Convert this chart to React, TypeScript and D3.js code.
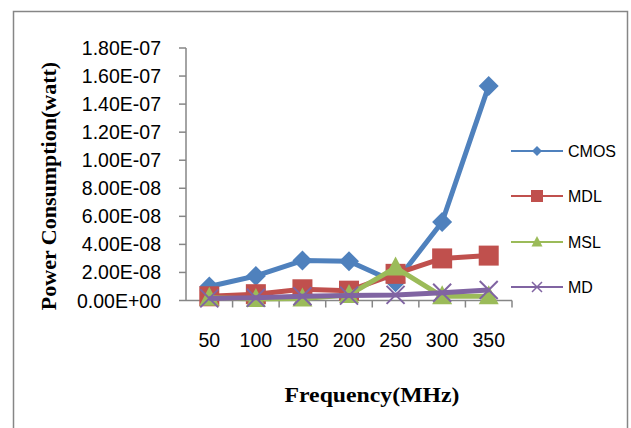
import React, { useEffect, useRef } from "react";
import * as d3 from "d3";

const frequencies = ["50", "100", "150", "200", "250", "300", "350"];
const cmos = [1.0e-8, 1.75e-8, 2.85e-8, 2.8e-8, 1.3e-8, 5.6e-8, 1.53e-7];
const mdl = [3.0e-9, 4.5e-9, 8.0e-9, 7.0e-9, 1.9e-8, 3.0e-8, 3.2e-8];
const msl = [2.0e-9, 1.0e-9, 1.5e-9, 4.0e-9, 2.35e-8, 3.0e-9, 3.0e-9];
const md = [1.5e-9, 2.0e-9, 3.0e-9, 3.5e-9, 4.0e-9, 5.5e-9, 7.5e-9];
const yTickValues = [0, 2e-8, 4e-8, 6e-8, 8e-8, 1e-7, 1.2e-7, 1.4e-7, 1.6e-7, 1.8e-7];
const yTickLabels = ["0.00E+00", "2.00E-08", "4.00E-08", "6.00E-08", "8.00E-08", "1.00E-07", "1.20E-07", "1.40E-07", "1.60E-07", "1.80E-07"];

const series = [
  { name: "CMOS", values: cmos, color: "#4F81BD", marker: "diamond" },
  { name: "MDL", values: mdl, color: "#C0504D", marker: "square" },
  { name: "MSL", values: msl, color: "#9BBB59", marker: "triangle" },
  { name: "MD", values: md, color: "#8064A2", marker: "x" },
];

const App = () => {
  const svgRef = useRef<SVGSVGElement>(null);

  useEffect(() => {
    const width = 631;
    const height = 428;
    const svg = d3.select(svgRef.current).attr("width", width).attr("height", height);
    svg.selectAll("*").remove();

    const axisColor = "#868686";
    const tickFont = "'Liberation Sans', Arial, sans-serif";
    const titleFont = "'Liberation Serif', 'Times New Roman', serif";

    // outer frame
    svg.append("rect")
      .attr("x", 13.5).attr("y", 11.5)
      .attr("width", 614).attr("height", 430)
      .attr("fill", "white").attr("stroke", axisColor).attr("stroke-width", 1.5);

    const x = d3.scaleBand().domain(frequencies).range([186, 512]);
    const y = d3.scaleLinear().domain([0, 1.8e-7]).range([300.5, 48]);

    // y axis
    const yAxis = svg.append("g");
    yAxis.append("line")
      .attr("x1", 186).attr("x2", 186)
      .attr("y1", y(1.8e-7)).attr("y2", y(0))
      .attr("stroke", axisColor).attr("stroke-width", 1.5);
    yTickValues.forEach((v, i) => {
      yAxis.append("line")
        .attr("x1", 179).attr("x2", 186)
        .attr("y1", y(v)).attr("y2", y(v))
        .attr("stroke", axisColor).attr("stroke-width", 1.5);
      yAxis.append("text")
        .attr("x", 161).attr("y", y(v))
        .attr("dy", "0.36em")
        .attr("text-anchor", "end")
        .attr("font-family", tickFont)
        .attr("font-size", 19.5)
        .attr("fill", "#000")
        .text(yTickLabels[i]);
    });

    // x axis
    const xAxis = svg.append("g");
    xAxis.append("line")
      .attr("x1", 186).attr("x2", 512)
      .attr("y1", y(0)).attr("y2", y(0))
      .attr("stroke", axisColor).attr("stroke-width", 1.5);
    frequencies.forEach((f) => {
      const bx = (x(f) as number) + x.bandwidth();
      xAxis.append("line")
        .attr("x1", bx).attr("x2", bx)
        .attr("y1", y(0)).attr("y2", y(0) + 7)
        .attr("stroke", axisColor).attr("stroke-width", 1.5);
      xAxis.append("text")
        .attr("x", (x(f) as number) + x.bandwidth() / 2)
        .attr("y", 347)
        .attr("text-anchor", "middle")
        .attr("font-family", tickFont)
        .attr("font-size", 19.5)
        .attr("fill", "#000")
        .text(f);
    });

    const cx = (f: string) => (x(f) as number) + x.bandwidth() / 2;

    const drawMarker = (g: any, type: string, px: number, py: number, s: number, color: string) => {
      if (type === "diamond") {
        g.append("path")
          .attr("d", `M${px},${py - s} L${px + s},${py} L${px},${py + s} L${px - s},${py} Z`)
          .attr("fill", color);
      } else if (type === "square") {
        g.append("rect")
          .attr("x", px - s).attr("y", py - s)
          .attr("width", 2 * s).attr("height", 2 * s)
          .attr("fill", color);
      } else if (type === "triangle") {
        g.append("path")
          .attr("d", `M${px},${py - s * 1.1} L${px + s},${py + s * 0.8} L${px - s},${py + s * 0.8} Z`)
          .attr("fill", color);
      } else {
        g.append("path")
          .attr("d", `M${px - s},${py - s} L${px + s},${py + s} M${px - s},${py + s} L${px + s},${py - s}`)
          .attr("stroke", color).attr("stroke-width", s > 6 ? 2 : 1.5).attr("fill", "none");
      }
    };

    const markerSize: Record<string, number> = { diamond: 10, square: 10, triangle: 10, x: 9 };
    const legendSize: Record<string, number> = { diamond: 5, square: 6, triangle: 5.5, x: 5 };

    const line = d3.line<number>()
      .x((d, i) => cx(frequencies[i]))
      .y((d) => y(d));

    series.forEach((s) => {
      const g = svg.append("g");
      g.append("path")
        .datum(s.values)
        .attr("fill", "none")
        .attr("stroke", s.color)
        .attr("stroke-width", 5)
        .attr("stroke-linejoin", "round")
        .attr("d", line);
      s.values.forEach((v, i) => {
        drawMarker(g, s.marker, cx(frequencies[i]), y(v), markerSize[s.marker], s.color);
      });
    });

    // legend
    const legendY = [151, 196, 242, 287];
    series.forEach((s, i) => {
      const g = svg.append("g");
      g.append("line")
        .attr("x1", 511).attr("x2", 563)
        .attr("y1", legendY[i]).attr("y2", legendY[i])
        .attr("stroke", s.color).attr("stroke-width", 2.2);
      drawMarker(g, s.marker, 537, legendY[i], legendSize[s.marker], s.color);
      g.append("text")
        .attr("x", 568).attr("y", legendY[i])
        .attr("dy", "0.36em")
        .attr("font-family", tickFont)
        .attr("font-size", 16)
        .attr("fill", "#000")
        .text(s.name);
    });

    // axis titles
    svg.append("text")
      .attr("transform", `translate(56, 186) rotate(-90)`)
      .attr("text-anchor", "middle")
      .attr("font-family", titleFont)
      .attr("font-weight", "bold")
      .attr("font-size", 22)
      .attr("fill", "#000")
      .text("Power Consumption(watt)");

    svg.append("text")
      .attr("x", 372).attr("y", 402)
      .attr("text-anchor", "middle")
      .attr("font-family", titleFont)
      .attr("font-weight", "bold")
      .attr("font-size", 22)
      .attr("textLength", 175)
      .attr("lengthAdjust", "spacingAndGlyphs")
      .attr("fill", "#000")
      .text("Frequency(MHz)");
  }, []);

  return (
    <svg ref={svgRef} style={{ position: "absolute", left: 0, top: 0, display: "block" }}></svg>
  );
};

export default App;
